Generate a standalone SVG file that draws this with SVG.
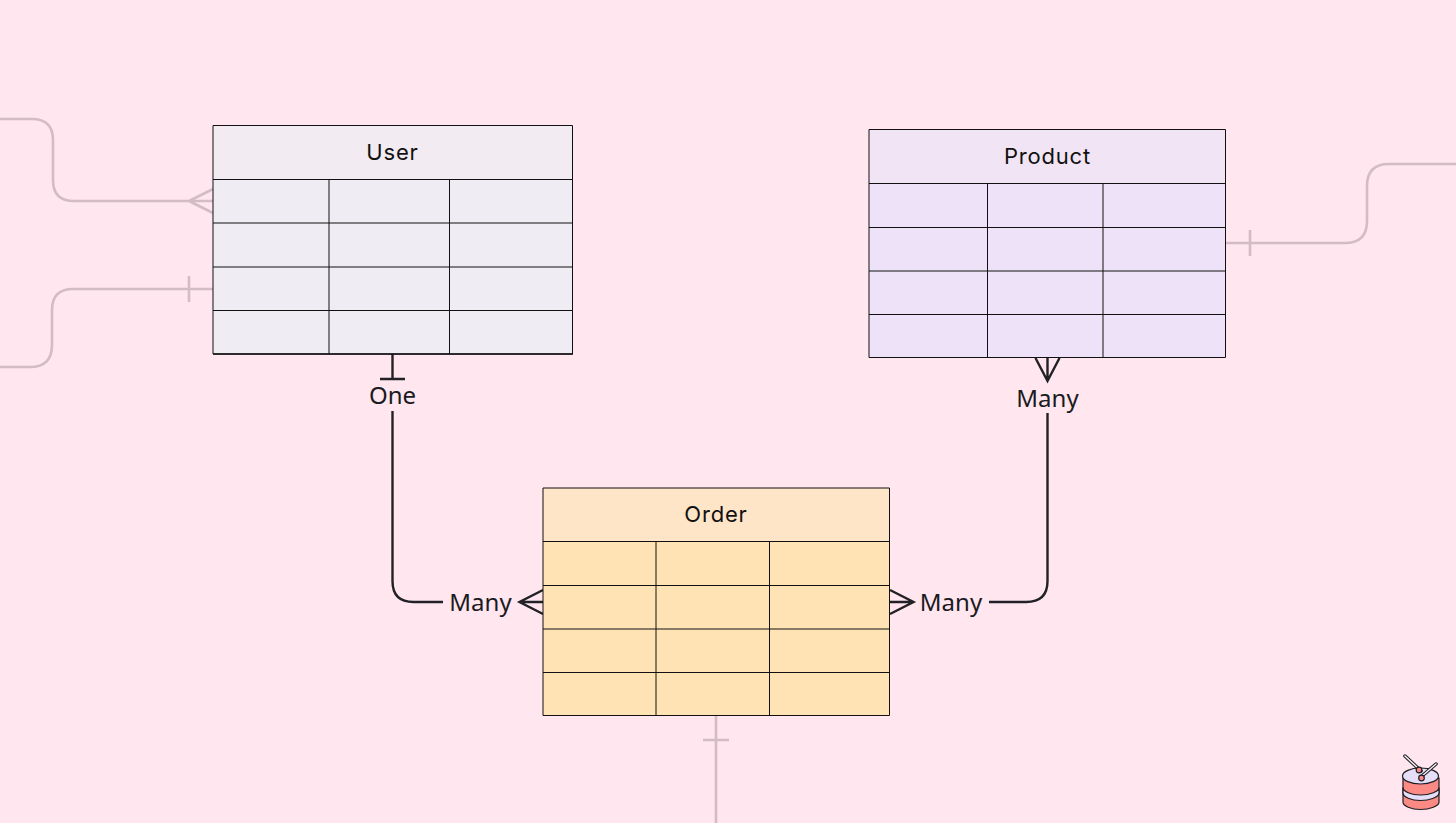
<svg xmlns="http://www.w3.org/2000/svg" width="1456" height="823" viewBox="0 0 1456 823">
<style>
.head{font-family:"Inter","Liberation Sans",sans-serif;font-size:22px;font-weight:400;letter-spacing:.8px;fill:#111;text-anchor:middle}
.lbl{font-family:"Noto Sans","Open Sans",sans-serif;font-size:24px;fill:#1a1a20;text-anchor:middle}
.g{fill:none;stroke:#111;stroke-width:1}
.c{fill:none;stroke:#212126;stroke-width:2.4}
.f{fill:none;stroke:#d4bcc5;stroke-width:2.6}
</style>
<rect width="1456" height="823" fill="#ffe6ef"/>
<g id="connectors">
<path class="f" d="M0 119H32Q53 119 53 140V180Q53 201 74 201H213M189 201L213 189M189 201L213 213"/>
<path class="f" d="M0 367H30Q52 367 52 345V310Q52 289 73 289H213M189 276V302"/>
<path class="f" d="M1226 243H1345Q1367 243 1367 221V186Q1367 164 1389 164H1456M1250 230V256"/>
<path class="f" d="M716 716V823M703 740H729"/>
<path class="c" d="M392.500 354V379M380 379H405M392.500 411V581Q392.500 602 413.500 602H443"/>
<path class="c" d="M543 590L519.500 602L543 614M519.500 602H543"/>
<path class="c" d="M890 590L913.500 602L890 614M913.500 602H890"/>
<path class="c" d="M989 602H1026Q1047.500 602 1047.500 581V413"/>
<path class="c" d="M1035.500 358L1047.500 381L1059.500 358M1047.500 358V381"/>
</g>
<g id="user">
<rect x="213" y="125.500" width="359.500" height="54" fill="#f2ebf2"/>
<rect x="213" y="179.500" width="359.500" height="174.500" fill="#efecf3"/>
<path class="g" d="M213 125.500H572.500V354H213ZM213 179.500H572.500M213 223H572.500M213 267H572.500M213 310.500H572.500M329 179.500V354M449.500 179.500V354"/>
<path d="M213 354H573" stroke="#111" stroke-width="1.500"/>
<text class="head" x="392.500" y="160">User</text>
</g>
<g id="product">
<rect x="869" y="129.500" width="356.500" height="54" fill="#f1e4f4"/>
<rect x="869" y="183.500" width="356.500" height="174" fill="#ede2f7"/>
<path class="g" d="M869 129.500H1225.500V357.500H869ZM869 183.500H1225.500M869 227.500H1225.500M869 271H1225.500M869 314.500H1225.500M987.500 183.500V357.500M1103 183.500V357.500"/>
<text class="head" x="1047.500" y="164">Product</text>
</g>
<g id="order">
<rect x="543" y="488" width="346.500" height="54" fill="#ffe5c8"/>
<rect x="543" y="541.500" width="346.500" height="174" fill="#ffe3b5"/>
<path class="g" d="M543 488H889.500V715.500H543ZM543 541.500H889.500M543 585.500H889.500M543 629H889.500M543 672.500H889.500M656 541.500V715.500M769.500 541.500V715.500"/>
<text class="head" x="716" y="522">Order</text>
</g>
<g id="labels">
<text class="lbl" x="392.500" y="404">One</text>
<text class="lbl" x="1047.500" y="407">Many</text>
<text class="lbl" x="480.500" y="611">Many</text>
<text class="lbl" x="951" y="611">Many</text>
</g>
<g id="logo" stroke="#1d1d22" stroke-width="1.200">
<path d="M1403 778V802C1403 806 1411 809.500 1420.500 809.500S1439 806 1439 802V778Z" fill="#fb8a85"/>
<path d="M1403 787.500C1403 791.500 1411 795 1420.500 795S1439 791.500 1439 787.500V793C1439 797 1430 800.500 1420.500 800.500S1403 797 1403 793Z" fill="#e5def7"/>
<ellipse cx="1420.500" cy="776" rx="18" ry="8" fill="#e5def7"/>
<path d="M1405 756L1421 771" stroke-width="3.500" stroke-linecap="round"/>
<path d="M1405 756L1421 771" stroke="#f5eef5" stroke-width="1.500" stroke-linecap="round"/>
<path d="M1436 764L1422 776" stroke-width="3.500" stroke-linecap="round"/>
<path d="M1436 764L1422 776" stroke="#f5eef5" stroke-width="1.500" stroke-linecap="round"/>
<circle cx="1419" cy="770" r="2.800" fill="#fb8a85"/>
<circle cx="1421.500" cy="778" r="2.800" fill="#fb8a85"/>
</g>
</svg>
